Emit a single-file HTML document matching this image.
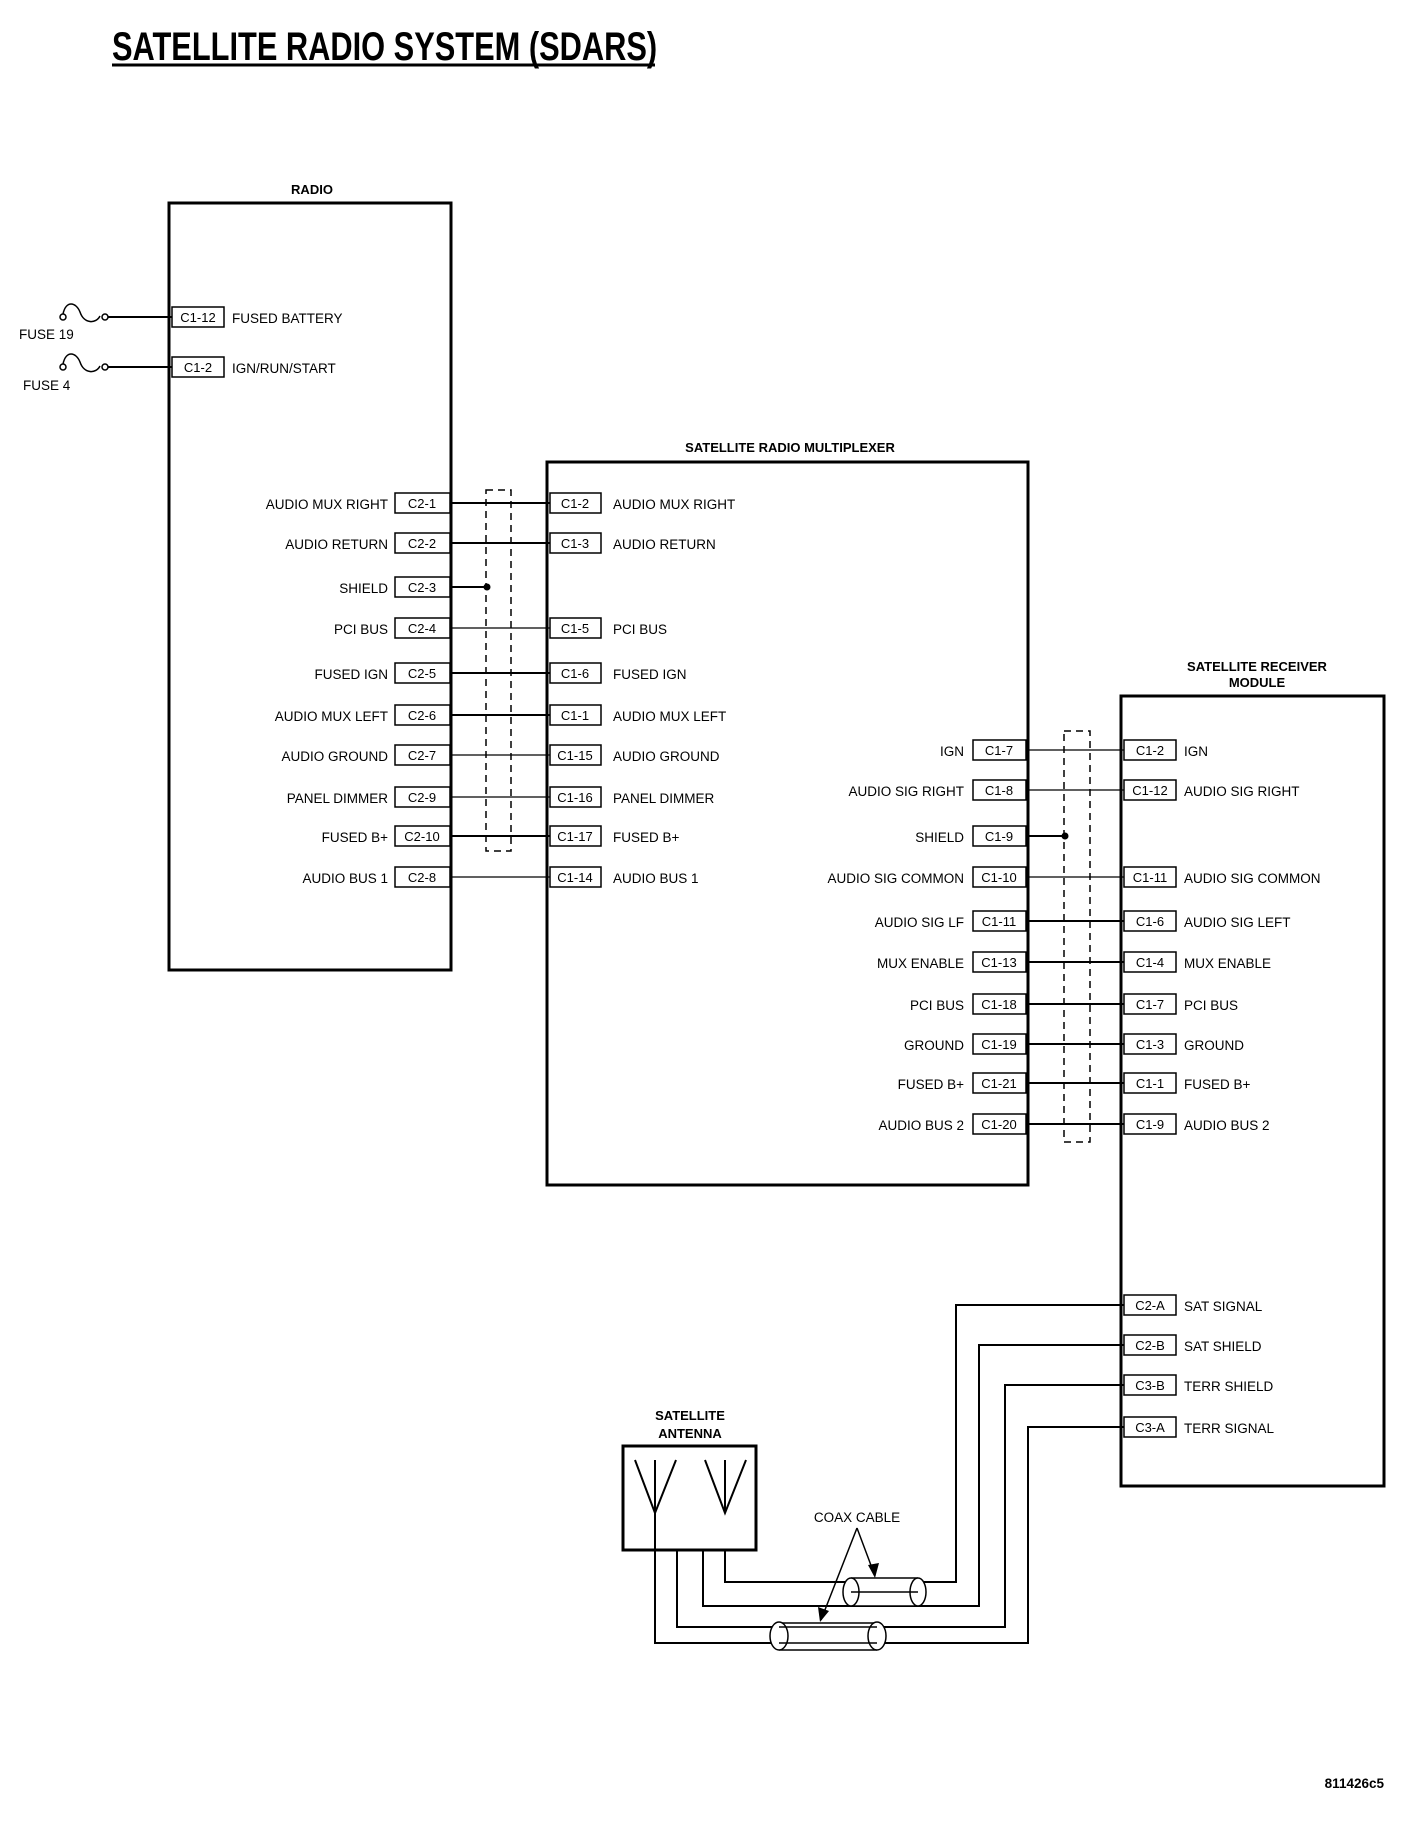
<!DOCTYPE html>
<html><head><meta charset="utf-8"><style>
html,body{margin:0;padding:0;background:#fff;}
svg{display:block;}
text{font-family:"Liberation Sans",Arial,sans-serif;fill:#000;}
.l{font-size:13.5px;}
.c{font-size:13px;text-anchor:middle;}
.h{font-size:13px;font-weight:bold;text-anchor:middle;}
</style></head><body>
<svg width="1408" height="1824" viewBox="0 0 1408 1824" xmlns="http://www.w3.org/2000/svg">
<g transform="translate(112,60) scale(0.77,1)"><text x="0" y="0" style="font-size:40px;font-weight:bold;">SATELLITE RADIO SYSTEM (SDARS)</text></g>
<line x1="112" y1="65" x2="655" y2="65" stroke="#000" stroke-width="3"/>

<g fill="none" stroke="#000" stroke-width="3">
<rect x="169" y="203" width="282" height="767"/>
<rect x="547" y="462" width="481" height="723"/>
<rect x="1121" y="696" width="263" height="790"/>
<rect x="623" y="1446" width="133" height="104"/>
</g>
<text class="h" x="312" y="194">RADIO</text>
<text class="h" x="790" y="452">SATELLITE RADIO MULTIPLEXER</text>
<text class="h" x="1257" y="671">SATELLITE RECEIVER</text>
<text class="h" x="1257" y="687">MODULE</text>
<text class="h" x="690" y="1420">SATELLITE</text>
<text class="h" x="690" y="1438">ANTENNA</text>

<g fill="none" stroke="#000" stroke-width="1.5">
<circle cx="63" cy="317" r="3"/><path d="M63 314 C66 300 76 302 80 312 C84 324 96 324 100 316"/><circle cx="105" cy="317" r="3"/>
<line x1="108" y1="317" x2="172" y2="317" stroke-width="2"/>
<circle cx="63" cy="367" r="3"/><path d="M63 364 C66 350 76 352 80 362 C84 374 96 374 100 366"/><circle cx="105" cy="367" r="3"/>
<line x1="108" y1="367" x2="172" y2="367" stroke-width="2"/>
</g>
<text class="l" x="19" y="339">FUSE 19</text>
<text class="l" x="23" y="390">FUSE 4</text>
<g fill="none" stroke="#000" stroke-width="1.5">
<rect x="172" y="307" width="52" height="20"/><rect x="172" y="357" width="52" height="20"/>
</g>
<text class="c" x="198" y="322">C1-12</text><text class="c" x="198" y="372">C1-2</text>
<text class="l" x="232" y="323">FUSED BATTERY</text>
<text class="l" x="232" y="373">IGN/RUN/START</text>

<g fill="none" stroke="#000" stroke-width="1.5" stroke-dasharray="7,5">
<rect x="486" y="490" width="25" height="361"/>
<rect x="1064" y="731" width="26" height="411"/>
</g>

<g stroke="#000" stroke-width="2">
<line x1="451" y1="503" x2="550" y2="503"/>
<line x1="451" y1="543" x2="550" y2="543"/>
<line x1="451" y1="587" x2="487" y2="587"/>
<line x1="451" y1="628" x2="550" y2="628" stroke-width="1.2"/>
<line x1="451" y1="673" x2="550" y2="673"/>
<line x1="451" y1="715" x2="550" y2="715"/>
<line x1="451" y1="755" x2="550" y2="755" stroke-width="1.2"/>
<line x1="451" y1="797" x2="550" y2="797" stroke-width="1.2"/>
<line x1="451" y1="836" x2="550" y2="836"/>
<line x1="451" y1="877" x2="550" y2="877" stroke-width="1.2"/>
</g>
<circle cx="487" cy="587" r="3.5" fill="#000"/>

<g fill="#fff" stroke="#000" stroke-width="1.5">
<rect x="395" y="493" width="55" height="20"/><rect x="395" y="533" width="55" height="20"/>
<rect x="395" y="577" width="55" height="20"/><rect x="395" y="618" width="55" height="20"/>
<rect x="395" y="663" width="55" height="20"/><rect x="395" y="705" width="55" height="20"/>
<rect x="395" y="745" width="55" height="20"/><rect x="395" y="787" width="55" height="20"/>
<rect x="395" y="826" width="55" height="20"/><rect x="395" y="867" width="55" height="20"/>
<rect x="550" y="493" width="51" height="20"/><rect x="550" y="533" width="51" height="20"/>
<rect x="550" y="618" width="51" height="20"/>
<rect x="550" y="663" width="51" height="20"/><rect x="550" y="705" width="51" height="20"/>
<rect x="550" y="745" width="51" height="20"/><rect x="550" y="787" width="51" height="20"/>
<rect x="550" y="826" width="51" height="20"/><rect x="550" y="867" width="51" height="20"/>
</g>
<text class="c" x="422" y="508">C2-1</text><text class="c" x="422" y="548">C2-2</text>
<text class="c" x="422" y="592">C2-3</text><text class="c" x="422" y="633">C2-4</text>
<text class="c" x="422" y="678">C2-5</text><text class="c" x="422" y="720">C2-6</text>
<text class="c" x="422" y="760">C2-7</text><text class="c" x="422" y="802">C2-9</text>
<text class="c" x="422" y="841">C2-10</text><text class="c" x="422" y="882">C2-8</text>
<text class="c" x="575" y="508">C1-2</text><text class="c" x="575" y="548">C1-3</text>
<text class="c" x="575" y="633">C1-5</text>
<text class="c" x="575" y="678">C1-6</text><text class="c" x="575" y="720">C1-1</text>
<text class="c" x="575" y="760">C1-15</text><text class="c" x="575" y="802">C1-16</text>
<text class="c" x="575" y="841">C1-17</text><text class="c" x="575" y="882">C1-14</text>

<text class="l" text-anchor="end" x="388" y="509">AUDIO MUX RIGHT</text>
<text class="l" text-anchor="end" x="388" y="549">AUDIO RETURN</text>
<text class="l" text-anchor="end" x="388" y="593">SHIELD</text>
<text class="l" text-anchor="end" x="388" y="634">PCI BUS</text>
<text class="l" text-anchor="end" x="388" y="679">FUSED IGN</text>
<text class="l" text-anchor="end" x="388" y="721">AUDIO MUX LEFT</text>
<text class="l" text-anchor="end" x="388" y="761">AUDIO GROUND</text>
<text class="l" text-anchor="end" x="388" y="803">PANEL DIMMER</text>
<text class="l" text-anchor="end" x="388" y="842">FUSED B+</text>
<text class="l" text-anchor="end" x="388" y="883">AUDIO BUS 1</text>

<text class="l" x="613" y="509">AUDIO MUX RIGHT</text>
<text class="l" x="613" y="549">AUDIO RETURN</text>
<text class="l" x="613" y="634">PCI BUS</text>
<text class="l" x="613" y="679">FUSED IGN</text>
<text class="l" x="613" y="721">AUDIO MUX LEFT</text>
<text class="l" x="613" y="761">AUDIO GROUND</text>
<text class="l" x="613" y="803">PANEL DIMMER</text>
<text class="l" x="613" y="842">FUSED B+</text>
<text class="l" x="613" y="883">AUDIO BUS 1</text>

<g stroke="#000" stroke-width="2">
<line x1="1026" y1="750" x2="1124" y2="750" stroke-width="1.2"/>
<line x1="1026" y1="790" x2="1124" y2="790" stroke-width="1.2"/>
<line x1="1026" y1="836" x2="1065" y2="836"/>
<line x1="1026" y1="877" x2="1124" y2="877" stroke-width="1.2"/>
<line x1="1026" y1="921" x2="1124" y2="921"/>
<line x1="1026" y1="962" x2="1124" y2="962"/>
<line x1="1026" y1="1004" x2="1124" y2="1004"/>
<line x1="1026" y1="1044" x2="1124" y2="1044"/>
<line x1="1026" y1="1083" x2="1124" y2="1083"/>
<line x1="1026" y1="1124" x2="1124" y2="1124"/>
</g>
<circle cx="1065" cy="836" r="3.5" fill="#000"/>
<g fill="#fff" stroke="#000" stroke-width="1.5">
<rect x="973" y="740" width="53" height="20"/><rect x="973" y="780" width="53" height="20"/>
<rect x="973" y="826" width="53" height="20"/><rect x="973" y="867" width="53" height="20"/>
<rect x="973" y="911" width="53" height="20"/><rect x="973" y="952" width="53" height="20"/>
<rect x="973" y="994" width="53" height="20"/><rect x="973" y="1034" width="53" height="20"/>
<rect x="973" y="1073" width="53" height="20"/><rect x="973" y="1114" width="53" height="20"/>
<rect x="1124" y="740" width="52" height="20"/><rect x="1124" y="780" width="52" height="20"/>
<rect x="1124" y="867" width="52" height="20"/>
<rect x="1124" y="911" width="52" height="20"/><rect x="1124" y="952" width="52" height="20"/>
<rect x="1124" y="994" width="52" height="20"/><rect x="1124" y="1034" width="52" height="20"/>
<rect x="1124" y="1073" width="52" height="20"/><rect x="1124" y="1114" width="52" height="20"/>
<rect x="1124" y="1295" width="52" height="20"/><rect x="1124" y="1335" width="52" height="20"/>
<rect x="1124" y="1375" width="52" height="20"/><rect x="1124" y="1417" width="52" height="20"/>
</g>
<text class="c" x="999" y="755">C1-7</text><text class="c" x="999" y="795">C1-8</text>
<text class="c" x="999" y="841">C1-9</text><text class="c" x="999" y="882">C1-10</text>
<text class="c" x="999" y="926">C1-11</text><text class="c" x="999" y="967">C1-13</text>
<text class="c" x="999" y="1009">C1-18</text><text class="c" x="999" y="1049">C1-19</text>
<text class="c" x="999" y="1088">C1-21</text><text class="c" x="999" y="1129">C1-20</text>
<text class="c" x="1150" y="755">C1-2</text><text class="c" x="1150" y="795">C1-12</text>
<text class="c" x="1150" y="882">C1-11</text>
<text class="c" x="1150" y="926">C1-6</text><text class="c" x="1150" y="967">C1-4</text>
<text class="c" x="1150" y="1009">C1-7</text><text class="c" x="1150" y="1049">C1-3</text>
<text class="c" x="1150" y="1088">C1-1</text><text class="c" x="1150" y="1129">C1-9</text>
<text class="c" x="1150" y="1310">C2-A</text><text class="c" x="1150" y="1350">C2-B</text>
<text class="c" x="1150" y="1390">C3-B</text><text class="c" x="1150" y="1432">C3-A</text>

<text class="l" text-anchor="end" x="964" y="756">IGN</text>
<text class="l" text-anchor="end" x="964" y="796">AUDIO SIG RIGHT</text>
<text class="l" text-anchor="end" x="964" y="842">SHIELD</text>
<text class="l" text-anchor="end" x="964" y="883">AUDIO SIG COMMON</text>
<text class="l" text-anchor="end" x="964" y="927">AUDIO SIG LF</text>
<text class="l" text-anchor="end" x="964" y="968">MUX ENABLE</text>
<text class="l" text-anchor="end" x="964" y="1010">PCI BUS</text>
<text class="l" text-anchor="end" x="964" y="1050">GROUND</text>
<text class="l" text-anchor="end" x="964" y="1089">FUSED B+</text>
<text class="l" text-anchor="end" x="964" y="1130">AUDIO BUS 2</text>

<text class="l" x="1184" y="756">IGN</text>
<text class="l" x="1184" y="796">AUDIO SIG RIGHT</text>
<text class="l" x="1184" y="883">AUDIO SIG COMMON</text>
<text class="l" x="1184" y="927">AUDIO SIG LEFT</text>
<text class="l" x="1184" y="968">MUX ENABLE</text>
<text class="l" x="1184" y="1010">PCI BUS</text>
<text class="l" x="1184" y="1050">GROUND</text>
<text class="l" x="1184" y="1089">FUSED B+</text>
<text class="l" x="1184" y="1130">AUDIO BUS 2</text>
<text class="l" x="1184" y="1311">SAT SIGNAL</text>
<text class="l" x="1184" y="1351">SAT SHIELD</text>
<text class="l" x="1184" y="1391">TERR SHIELD</text>
<text class="l" x="1184" y="1433">TERR SIGNAL</text>

<g fill="none" stroke="#000" stroke-width="2">
<polyline points="1124,1305 956,1305 956,1582 725,1582 725,1550"/>
<polyline points="1124,1345 979,1345 979,1606 703,1606 703,1550"/>
<polyline points="1124,1385 1005,1385 1005,1627 677,1627 677,1550"/>
<polyline points="1124,1427 1028,1427 1028,1643 655,1643 655,1550"/>
<polyline points="635,1460 655,1513 676,1460"/>
<line x1="655" y1="1460" x2="655" y2="1550"/>
<polyline points="705,1460 725,1513 746,1460"/>
<line x1="725" y1="1460" x2="725" y2="1513"/>
</g>
<g fill="#fff" stroke="#000" stroke-width="1.5">
<path d="M851 1578 L918 1578 L918 1606 L851 1606 Z" stroke="none"/>
<line x1="851" y1="1578" x2="918" y2="1578"/><line x1="851" y1="1606" x2="918" y2="1606"/>
<ellipse cx="851" cy="1592" rx="8" ry="14"/><ellipse cx="918" cy="1592" rx="8" ry="14"/>
<path d="M779 1623 L877 1623 L877 1650 L779 1650 Z" stroke="none"/>
<line x1="779" y1="1623" x2="877" y2="1623"/><line x1="779" y1="1650" x2="877" y2="1650"/>
<ellipse cx="779" cy="1636" rx="9" ry="14"/><ellipse cx="877" cy="1636" rx="9" ry="14"/>
</g>
<g stroke="#000" stroke-width="1.5">
<line x1="851" y1="1592" x2="918" y2="1592"/>
<line x1="779" y1="1627" x2="877" y2="1627"/>
<line x1="779" y1="1643" x2="877" y2="1643"/>
<line x1="857" y1="1528" x2="875" y2="1576"/>
<line x1="857" y1="1528" x2="821" y2="1620"/>
</g>
<polygon points="875,1578 868,1565 879,1563" fill="#000"/>
<polygon points="820,1622 818,1607 829,1611" fill="#000"/>
<text class="l" x="857" y="1522" text-anchor="middle">COAX CABLE</text>

<text x="1384" y="1788" text-anchor="end" style="font-size:13.5px;font-weight:bold;">811426c5</text>
</svg>
</body></html>
